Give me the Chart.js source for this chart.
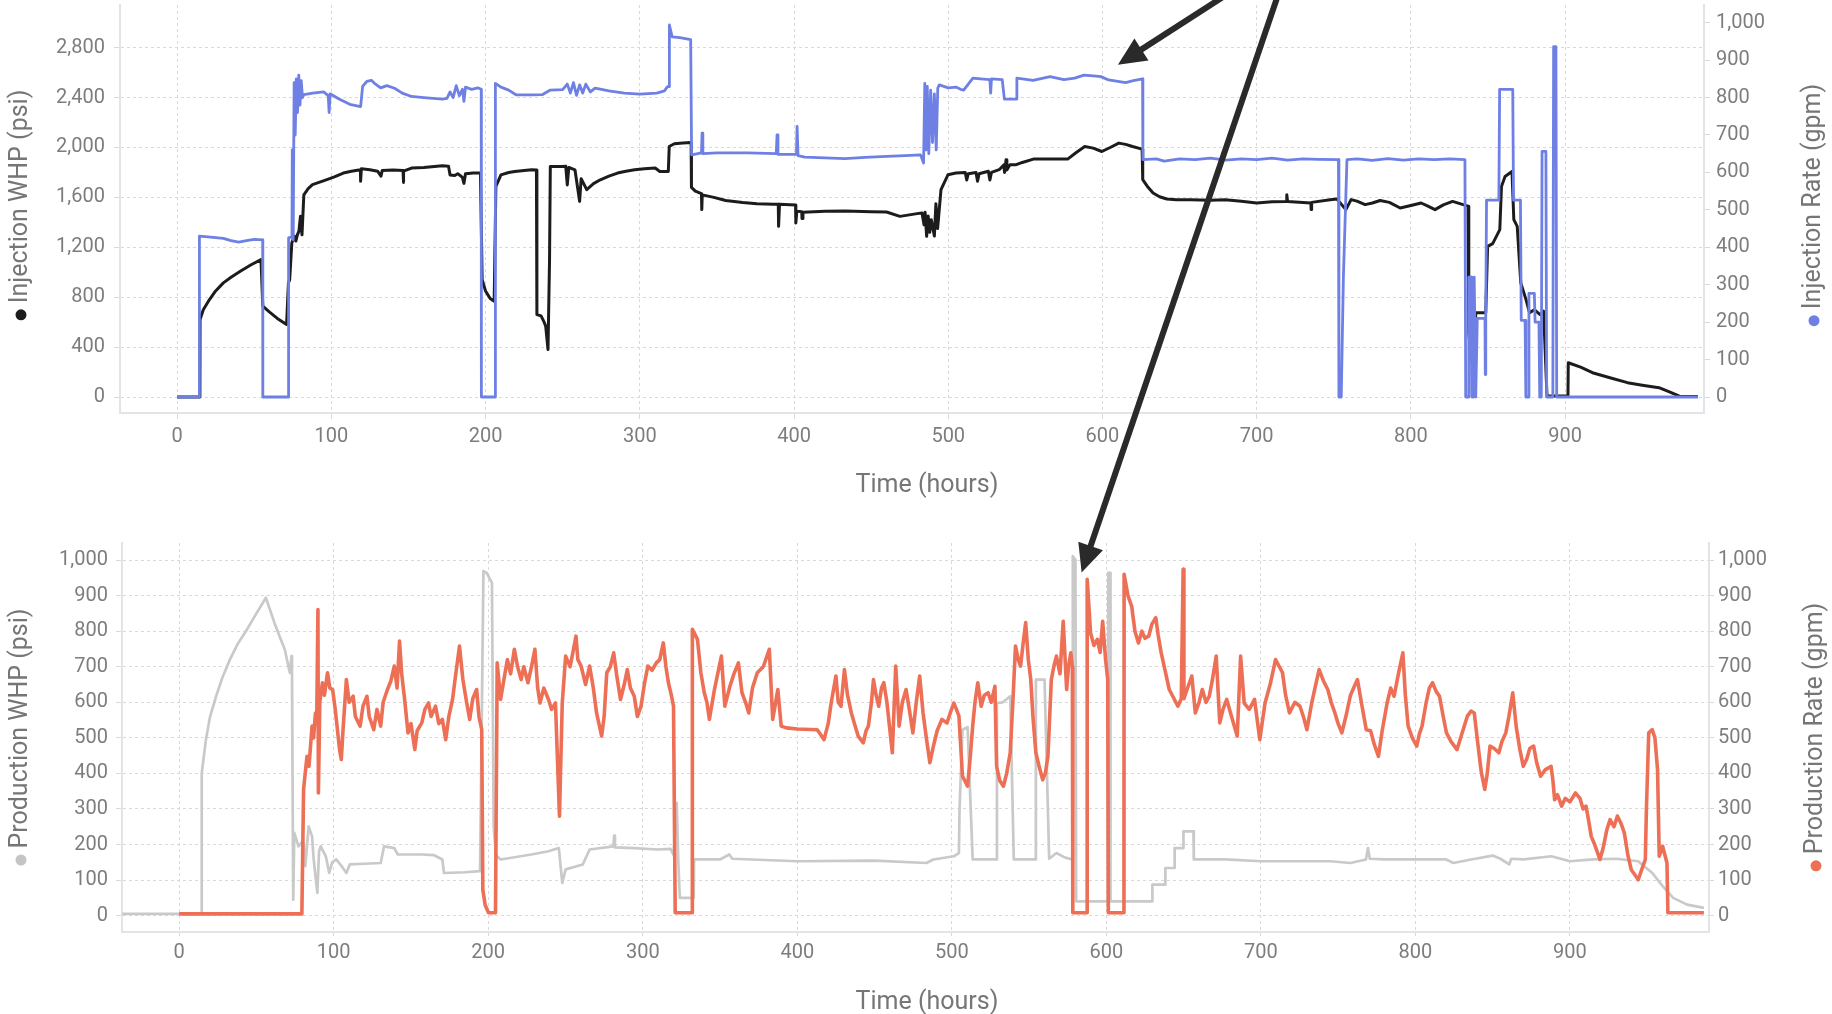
<!DOCTYPE html>
<html>
<head>
<meta charset="utf-8">
<script src="https://cdn.jsdelivr.net/npm/chart.js@4.4.0/dist/chart.umd.min.js"></script>
<style>
  html, body { margin: 0; padding: 0; background: #fff; }
  #wrap { position: relative; width: 1832px; height: 1014px; overflow: hidden; }
  #topChart, #bottomChart, #arrows { position: absolute; left: 0; }
  #topChart { top: 0; }
  #bottomChart { top: 505px; }
  #arrows { top: 0; pointer-events: none; }
</style>
</head>
<body>
<div id="wrap">
  <canvas id="topChart" width="1832" height="505"></canvas>
  <canvas id="bottomChart" width="1832" height="509"></canvas>
  <canvas id="arrows" width="1832" height="1014"></canvas>
</div>
<script>
// tick labels
const hourTicks = [0, 100, 200, 300, 400, 500, 600, 700, 800, 900];
const injWhpTicks = [0, 400, 800, 1200, 1600, 2000, 2400, 2800];
const injRateTicks = [0, 100, 200, 300, 400, 500, 600, 700, 800, 900, 1000];
const prodTicks = [0, 100, 200, 300, 400, 500, 600, 700, 800, 900, 1000];

// [hours, gpm]
const injRate = [
  [0,0],[14.4,0],[14.5,430],[20,428],[25,426],[30,424],[35,418],[40,414],[45,418],[50,421],[55.5,420],[55.6,0],
  [72.2,0],[72.3,425],[74.5,428],[74.7,660],[75.3,420],[75.9,840],[76.6,700],[77.3,850],[78.1,760],[78.9,860],
  [79.7,780],[80.5,845],[81.3,800],[82.2,808],[88,812],[95,815],[98,805],[98.6,760],[99.2,810],[105,796],[112,782],
  [119,776],[119.6,800],[120.3,830],[123,843],[126,846],[128,838],[132,826],[136,832],[141,825],[146,812],[152,803],
  [160,800],[172,796],[175,798],[177,815],[179,800],[181,832],[183,805],[185,822],[186,790],[187,828],[191,822],
  [195,826],[197.2,822],[197.3,0],[206.2,0],[206.4,838],[210,828],[215,820],[220,807],[230,807],[237,808],[242,820],
  [250,821],[253,836],[255,812],[257,840],[259,806],[261,834],[263,812],[265,836],[268,815],[271,825],[280,818],
  [290,812],[300,809],[311,812],[316,818],[318,829],[319,829],[319.2,994],[321,962],[326,960],[333,955],[333.6,647],
  [340,652],[340.4,705],[340.9,650],[350,652],[370,652],[388.5,650],[389,700],[389.6,648],[401.6,648],[402,723],
  [402.6,645],[407,641],[420,639],[433,637],[446,640],[460,643],[472,645],[482,647],[484,625],[484.8,838],[485.6,660],
  [486.4,830],[487.4,650],[488.6,820],[489.8,680],[491,810],[492.2,660],[493.2,825],[494.2,834],[500,826],[505,828],
  [508,822],[510,820],[513,836],[516,852],[521,850],[527,848],[527.5,812],[528,850],[535,848],[536.4,796],[544,796],
  [544.5,852],[555,846],[566,856],[575,848],[582,852],[588,860],[594,858],[599,856],[604,847],[610,843],[615,840],
  [620,845],[626,850],[626.2,634],[635,636],[640,630],[650,636],[660,634],[670,638],[680,633],[690,636],[700,634],
  [710,638],[720,633],[730,636],[740,635],[753,634],[753.3,0],[754.8,0],[756.2,321],[758.5,634],[765,636],[775,632],
  [785,637],[795,633],[805,636],[815,634],[825,636],[835,634],[835.5,0],[837,0],[837.5,320],[839,320],[839.5,0],
  [840.5,0],[841,320],[842,0],[843,210],[848,210],[848.2,60],[848.5,210],[849,526],[857,526],[857.5,822],[866,822],
  [866.5,526],[871,526],[871.5,205],[874,205],[874.5,0],[876,0],[876.5,277],[880,277],[880.5,200],[883,200],
  [883.5,0],[884.5,0],[885,656],[887.5,656],[888,0],[892,0],[892.5,936],[894,936],[894.5,0],[986,0]
];

// [hours, psi]
const injWhp = [
  [0,0],[14.8,0],[14.9,621],[17,700],[21,781],[25,850],[30,915],[35,960],[41,1008],[48,1060],[54.4,1101],
  [55.6,728],[60,680],[65,630],[71,581],[72.2,915],[73,941],[74.4,1235],[76,1290],[77,1250],[78,1300],[79,1330],
  [80,1448],[81,1300],[82.2,1621],[85,1670],[87.8,1702],[92,1720],[96.7,1741],[102,1765],[107.8,1795],[113,1810],
  [118.9,1821],[119,1730],[119.5,1830],[125,1822],[130,1810],[132.2,1770],[133,1815],[140,1820],[146.5,1815],
  [146.7,1720],[147,1810],[152,1835],[160,1840],[172,1854],[176,1850],[177,1780],[180,1775],[182,1790],[185,1760],
  [186,1712],[187,1790],[192,1795],[196.7,1795],[197.8,941],[200,850],[203,790],[205.6,768],[206.7,1688],
  [210,1781],[215,1800],[219,1808],[225,1815],[230,1821],[233,1820],[233.3,661],[236,650],[238,600],[239,568],
  [240.5,381],[241.5,1100],[242,1848],[250,1848],[252,1850],[253,1700],[254,1840],[258,1820],[261,1568],[262,1750],
  [265.6,1662],[270,1710],[274.4,1741],[280,1770],[285.6,1795],[291,1810],[296.7,1821],[303,1830],[310,1835],
  [313,1808],[318.5,1808],[319.1,2008],[322.4,2030],[328,2035],[333.3,2040],[333.5,1680],[336,1650],[340,1630],
  [340.2,1502],[340.5,1620],[348,1600],[355.7,1575],[366.7,1560],[376,1550],[386.7,1545],[389.8,1545],[390,1368],
  [390.6,1545],[401,1540],[401.2,1395],[401.8,1490],[405,1485],[405.2,1430],[405.8,1480],[420,1488],[433.3,1490],
  [450,1485],[460,1483],[468.7,1448],[479.8,1470],[483,1475],[484.3,1380],[485,1480],[486,1288],[487,1450],
  [488,1320],[489,1420],[491,1290],[492,1550],[493.1,1350],[495.3,1662],[499.8,1781],[505,1795],[511,1800],
  [512,1740],[513,1790],[518,1800],[519,1730],[520,1790],[526,1810],[527,1740],[528,1800],[533,1822],[536,1860],
  [536.5,1800],[537.5,1902],[538,1820],[540,1862],[544.1,1862],[548,1880],[555.2,1907],[566,1907],[577.4,1907],
  [583,1960],[588.5,2008],[594,1995],[599.6,1968],[605,2000],[610.6,2035],[615,2025],[619.5,2008],[625.7,1987],
  [626.1,1742],[629,1690],[632.8,1635],[637,1605],[641.7,1587],[647.9,1582],[656.9,1582],[670,1578],[679.6,1582],
  [690,1570],[700,1555],[710,1565],[719.3,1568],[719.5,1622],[720,1568],[730,1560],[735.1,1555],[735.3,1502],
  [735.6,1560],[747.6,1582],[752,1587],[757.8,1502],[761.2,1582],[765,1570],[770.3,1542],[775,1555],[780,1575],
  [786,1560],[793,1515],[800,1535],[806.6,1555],[811,1530],[815.6,1502],[821,1540],[827,1568],[833.8,1542],
  [837,1530],[837.5,515],[839,300],[840,900],[841,200],[842,675],[848.5,675],[849.7,1208],[853,1230],[857.6,1342],
  [858.7,1688],[861,1768],[865.5,1808],[866.7,1422],[868.9,1368],[871.2,915],[874.6,781],[876.9,675],[880,700],
  [883.7,661],[886,688],[888.2,8],[897.3,8],[901.8,8],[902,275],[910,240],[917.7,195],[929,155],[940.4,115],
  [950,95],[960.8,75],[968,40],[974.4,5],[986,5]
];

// [hours, psi]
const prodWhp = [
  [-37,5],[14.5,5],[14.6,401],[17.3,495],[20,560],[23.9,617],[28,670],[32.8,720],[38,765],[43.9,805],[50,850],
  [56.1,894],[58,870],[61.6,824],[65,785],[68.3,749],[71.6,683],[72.7,730],[73,690],[73.8,45],[74.5,233],[77.2,195],
  [79,205],[80.5,205],[81.6,139],[83.8,251],[86,223],[87,160],[89.4,64],[90.5,180],[91.6,195],[94.9,167],[97.1,120],
  [99,150],[101.6,158],[105,140],[108.2,120],[110.4,144],[120,146],[130.4,148],[132.6,195],[139.2,190],[141.5,172],
  [157,172],[165,170],[170.3,158],[171.4,120],[185,122],[194.7,125],[196.9,969],[199,964],[202.4,936],[203.5,250],
  [205,170],[208,158],[227.9,172],[239,181],[245.7,190],[247.9,92],[250.1,130],[261.2,144],[265.6,186],[281,195],
  [281.5,225],[282,192],[294.5,190],[309.5,186],[318,188],[320,170],[322,317],[323,150],[324,50],[333,50],
  [333.2,158],[350,158],[356,172],[358,160],[400,153],[450,155],[483.6,148],[488,158],[501.3,167],[504.6,176],
  [505,300],[506.9,523],[510.2,530],[513.5,158],[529,158],[529.2,598],[533,600],[537.8,617],[540.1,158],[554.2,158],
  [554.4,664],[560,664],[563,160],[567.7,176],[573,164],[578,158],[578.3,1011],[580,1000],[580.5,40],[601,40],
  [601.3,964],[602.5,964],[602.7,40],[629.6,40],[629.8,87],[638,87],[638.2,134],[644,134],[644.2,190],[649.7,190],
  [649.9,237],[656.4,237],[656.6,158],[677,158],[700,153],[745,153],[758,148],[768,158],[769.3,190],[770.5,160],
  [780,158],[820,158],[824.6,148],[836,158],[850,169],[855,160],[860.7,144],[862,160],[870,158],[888,167],
  [900,153],[914.9,158],[930,160],[944.2,153],[953.3,120],[960,83],[966.8,50],[975.8,31],[986.7,22]
];

// [hours, gpm]
const prodRate = [
  [0,5],[79.4,5],[80.5,355],[82.7,448],[84,420],[86,533],[87,500],[88.2,570],[89,540],[89.8,861],[90.1,345],
  [91,600],[92.7,655],[94,620],[96,683],[97.5,640],[99.3,636],[101,580],[103.8,467],[104.9,439],[106,520],
  [108.2,664],[110,600],[112.6,617],[114,560],[117.1,533],[119,590],[121.5,617],[123,560],[125.9,523],[128,580],
  [130.4,533],[132,600],[134.8,636],[137,660],[139.2,702],[141,640],[142.6,772],[144,680],[145.9,608],[148.1,514],
  [150,540],[152.5,467],[154,520],[157,542],[159,580],[161.4,598],[163,560],[165.9,589],[168,540],[170.3,552],
  [172.5,495],[174.5,560],[176.9,608],[179,680],[181.4,758],[183.6,664],[186,600],[188,552],[190,610],[192.5,636],
  [194,560],[195.8,523],[196.5,73],[198,30],[200.2,8],[204.7,8],[205.8,711],[208,608],[210,660],[212.4,720],
  [214.5,680],[216.9,749],[219,700],[221.3,664],[223,700],[225.7,655],[228,700],[230.2,749],[232,640],[233.5,598],
  [236,640],[239,608],[241,580],[243.5,598],[246.1,280],[247.9,598],[250.1,730],[253,700],[256.8,786],[258,720],
  [260.1,702],[263,650],[265.6,702],[268,640],[270.1,570],[273.4,505],[275,560],[276.7,683],[279,700],[281.2,739],
  [283,680],[285.6,608],[288,650],[290,692],[292,640],[294.5,617],[296.5,560],[298.9,589],[301,650],[303.3,702],
  [306,690],[308.8,711],[311,720],[313.3,767],[315,700],[316.6,655],[318.5,620],[319.9,589],[321,8],[332,8],
  [332.1,805],[335.4,777],[337.6,683],[339.8,627],[341.5,600],[343.1,552],[346.4,636],[348.5,680],[350.9,730],
  [353.1,589],[356.4,645],[359,680],[361.9,711],[364.2,627],[366.5,600],[368.6,570],[371,640],[374.1,683],[378,700],
  [381.9,749],[384.1,552],[387.4,636],[389.6,533],[392.9,528],[400,525],[412.8,523],[415,510],[417.3,495],[420,540],
  [422,600],[425,674],[426.5,600],[428.3,589],[430.5,692],[432.5,620],[435,570],[437,540],[439.4,505],[442.7,486],
  [444.5,520],[446,533],[448,600],[449.3,664],[451,620],[452.7,589],[454.5,640],[456,655],[458,600],[461.5,458],
  [463.7,702],[465.9,533],[468,600],[470.4,636],[472.5,580],[474.8,514],[477,600],[479.2,674],[481.4,570],
  [483.5,500],[485.8,430],[488.1,477],[490.5,520],[493.6,552],[496.9,542],[499,570],[501.3,598],[503,580],
  [504.6,561],[506.9,392],[510.2,364],[512,450],[513.5,533],[515,600],[516.8,655],[519,589],[521,620],[523.5,627],
  [525.5,600],[527.9,645],[529,420],[531,380],[533.4,364],[535.5,400],[537.8,458],[539.5,600],[541.2,758],
  [543,720],[544.5,702],[546,760],[547.8,824],[549.5,720],[551.1,664],[552.5,560],[554.4,458],[556.5,420],
  [558.8,382],[560.5,400],[562.2,448],[564.4,664],[566,700],[567.7,730],[570,680],[572.1,828],[574.3,636],
  [575.5,700],[577,739],[578,700],[578.3,8],[587.5,8],[587.6,946],[589.8,795],[592,760],[594.2,777],[596,740],
  [597.6,828],[599.5,720],[600.9,664],[601.3,8],[611.4,8],[611.5,960],[614,900],[616.4,870],[618.5,800],[620.8,767],
  [623,800],[625,780],[627.4,786],[629.5,820],[632,838],[633.5,790],[635.5,739],[638,690],[640.7,636],[643,617],
  [646.3,589],[648.5,610],[649.7,974],[650.2,610],[651.5,627],[655.3,674],[657.6,570],[660,600],[662.1,636],
  [664.5,600],[666.6,617],[668.5,660],[671.1,730],[673.4,542],[675.5,580],[677.9,608],[681,560],[684.7,505],
  [686.9,730],[689.2,598],[692.5,580],[695.9,608],[699.3,495],[702.7,598],[706,650],[709.5,720],[712,700],
  [714,683],[716,620],[718.5,570],[722,600],[725.3,589],[727.5,560],[729.8,523],[733,600],[735.5,650],[737.7,692],
  [740.5,660],[743.3,636],[745.5,600],[747.9,570],[750,540],[752.4,514],[755,560],[758,620],[760,640],[762.5,664],
  [765,600],[768.2,523],[771,520],[773.5,480],[776.1,448],[778.5,520],[781.7,598],[784,640],[786.2,617],[789,680],
  [791.9,739],[793.5,620],[795.3,533],[798,500],[800.9,477],[802.5,510],[804.3,533],[807,600],[809,640],[811.1,655],
  [813.5,630],[815.6,617],[818,560],[820.1,514],[823,490],[826.9,467],[830,510],[833.6,561],[836,575],[838.1,570],
  [840.5,480],[842.7,402],[844.9,355],[846.5,400],[848.3,477],[851,470],[854,458],[856,490],[858.5,514],[860.5,560],
  [863,627],[865.2,533],[867.5,470],[869.8,420],[872,440],[874,470],[876.5,477],[878.5,430],[881,392],[884,410],
  [887.8,420],[889,380],[890.1,326],[892,340],[894.6,308],[897,330],[900,320],[903.6,345],[906.5,330],[908.5,300],
  [910.4,308],[912,270],[913.8,223],[916,200],[919.4,158],[921.5,190],[923.9,242],[926,270],[928.5,250],[930.7,280],
  [933,260],[935.2,233],[937.5,170],[939.7,129],[942,115],[944.2,101],[946.5,130],[948.8,158],[949.5,300],
  [951,514],[953.3,523],[955,500],[956.7,411],[957.8,167],[960,195],[961.5,170],[962.8,148],[963.4,8],[986.7,8]
];

const TICK_COLOR = '#7d7d7d';
const TITLE_COLOR = '#767676';
const GRID_COLOR = '#d9d9d9';
const AXIS_COLOR = '#e1e5ea';

function toXY(pairs) {
  return pairs.map(function (p) { return { x: p[0], y: p[1] }; });
}

// axis titles with a coloured bullet, drawn on top of the chart
const sideTitles = {
  id: 'sideTitles',
  afterDraw: function (chart, args, opts) {
    const ctx = chart.ctx;
    (opts.items || []).forEach(function (t) {
      ctx.save();
      ctx.translate(t.x, t.y);
      if (t.rotate) ctx.rotate(-Math.PI / 2);
      ctx.font = '25px Roboto';
      const w = ctx.measureText(t.text).width;
      const lead = t.dot ? 17 : 0;
      const sx = -(w + lead) / 2;
      if (t.dot) {
        ctx.fillStyle = t.dot;
        ctx.beginPath();
        ctx.arc(sx + 5.5, 1, 5.5, 0, Math.PI * 2);
        ctx.fill();
      }
      ctx.fillStyle = TITLE_COLOR;
      ctx.textAlign = 'left';
      ctx.textBaseline = 'middle';
      ctx.fillText(t.text, sx + lead, 1);
      ctx.restore();
    });
  }
};

function xAxis(height, tickLength, pad) {
  return {
    type: 'linear',
    min: -37,
    max: 990,
    afterBuildTicks: function (scale) {
      scale.ticks = hourTicks.map(function (v) { return { value: v }; });
    },
    afterFit: function (scale) {
      scale.height = height;
      scale.paddingLeft = 0;
      scale.paddingRight = 0;
    },
    grid: { color: GRID_COLOR, lineWidth: 1, tickLength: tickLength, tickColor: GRID_COLOR },
    border: { color: AXIS_COLOR, width: 2, dash: [3, 3] },
    ticks: {
      color: TICK_COLOR,
      padding: pad,
      maxRotation: 0,
      font: { family: 'Roboto', size: 20 },
      callback: function (v) { return v; }
    }
  };
}

function yAxis(position, min, max, tickList, width, tickLength, pad, onArea) {
  return {
    type: 'linear',
    position: position,
    min: min,
    max: max,
    afterBuildTicks: function (scale) {
      scale.ticks = tickList.map(function (v) { return { value: v }; });
    },
    afterFit: function (scale) {
      scale.width = width;
      scale.paddingTop = 0;
      scale.paddingBottom = 0;
    },
    grid: {
      display: true,
      drawOnChartArea: onArea,
      color: GRID_COLOR,
      lineWidth: 1,
      tickLength: tickLength,
      tickColor: GRID_COLOR
    },
    border: { color: AXIS_COLOR, width: 2, dash: [3, 3] },
    ticks: {
      color: TICK_COLOR,
      padding: pad,
      font: { family: 'Roboto', size: 20 },
      callback: function (v) { return v.toLocaleString('en-US'); }
    }
  };
}

function lineSet(pairs, color, width, axisId) {
  return {
    data: toXY(pairs),
    borderColor: color,
    borderWidth: width,
    pointRadius: 0,
    tension: 0,
    fill: false,
    borderJoinStyle: 'round',
    yAxisID: axisId
  };
}

const topChart = new Chart(document.getElementById('topChart'), {
  type: 'line',
  data: {
    datasets: [
      lineSet(injRate, '#6e80e4', 2.8, 'yRate'),
      lineSet(injWhp, '#1c1c1c', 3, 'yWhp')
    ]
  },
  options: {
    responsive: false,
    animation: false,
    layout: { padding: { top: 5, bottom: 0, left: 0, right: 0 } },
    plugins: {
      legend: { display: false },
      tooltip: { enabled: false },
      sideTitles: {
        items: [
          { text: 'Injection WHP (psi)', x: 20, y: 205, rotate: true, dot: '#1c1c1c' },
          { text: 'Injection Rate (gpm)', x: 1813, y: 205, rotate: true, dot: '#6e80e4' },
          { text: 'Time (hours)', x: 927, y: 485, rotate: false }
        ]
      }
    },
    scales: {
      x: xAxis(92, 6, 6),
      yWhp: yAxis('left', -128, 3142, injWhpTicks, 120, 6, 9, true),
      yRate: yAxis('right', -42.7, 1047.3, injRateTicks, 128, 6, 6, false)
    }
  },
  plugins: [sideTitles]
});

const bottomChart = new Chart(document.getElementById('bottomChart'), {
  type: 'line',
  data: {
    datasets: [
      lineSet(prodRate, '#ec6f56', 3.6, 'yRate'),
      lineSet(prodWhp, '#c9c9c9', 2.7, 'yWhp')
    ]
  },
  options: {
    responsive: false,
    animation: false,
    layout: { padding: { top: 38, bottom: 0, left: 0, right: 0 } },
    plugins: {
      legend: { display: false },
      tooltip: { enabled: false },
      sideTitles: {
        items: [
          { text: 'Production WHP (psi)', x: 20, y: 232, rotate: true, dot: '#c4c4c4' },
          { text: 'Production Rate (gpm)', x: 1815, y: 232, rotate: true, dot: '#ec6f56' },
          { text: 'Time (hours)', x: 927, y: 497, rotate: false }
        ]
      }
    },
    scales: {
      x: xAxis(82, 4, 5),
      yWhp: yAxis('left', -46, 1048, prodTicks, 122, 6, 8, true),
      yRate: yAxis('right', -46, 1048, prodTicks, 123, 5, 4, false)
    }
  },
  plugins: [sideTitles]
});

// annotation arrows, tips anchored to the chart scales
(function drawArrows() {
  const ctx = document.getElementById('arrows').getContext('2d');
  const bottomTop = 505;
  const arrows = [
    {
      tail: [1226, -5],
      tip: [topChart.scales.x.getPixelForValue(610), topChart.scales.yRate.getPixelForValue(888)]
    },
    {
      tail: [1278, -5],
      tip: [bottomChart.scales.x.getPixelForValue(584), bottomTop + bottomChart.scales.yWhp.getPixelForValue(965)]
    }
  ];
  ctx.strokeStyle = '#2a2a2a';
  ctx.fillStyle = '#2a2a2a';
  ctx.lineWidth = 6;
  arrows.forEach(function (a) {
    const dx = a.tip[0] - a.tail[0];
    const dy = a.tip[1] - a.tail[1];
    const len = Math.sqrt(dx * dx + dy * dy);
    const ux = dx / len, uy = dy / len;
    const headLen = 28, headHalf = 13;
    const bx = a.tip[0] - ux * headLen;
    const by = a.tip[1] - uy * headLen;
    ctx.beginPath();
    ctx.moveTo(a.tail[0], a.tail[1]);
    ctx.lineTo(bx + ux * 4, by + uy * 4);
    ctx.stroke();
    ctx.beginPath();
    ctx.moveTo(a.tip[0], a.tip[1]);
    ctx.lineTo(bx - uy * headHalf, by + ux * headHalf);
    ctx.lineTo(bx + uy * headHalf, by - ux * headHalf);
    ctx.closePath();
    ctx.fill();
  });
})();
</script>
</body>
</html>
